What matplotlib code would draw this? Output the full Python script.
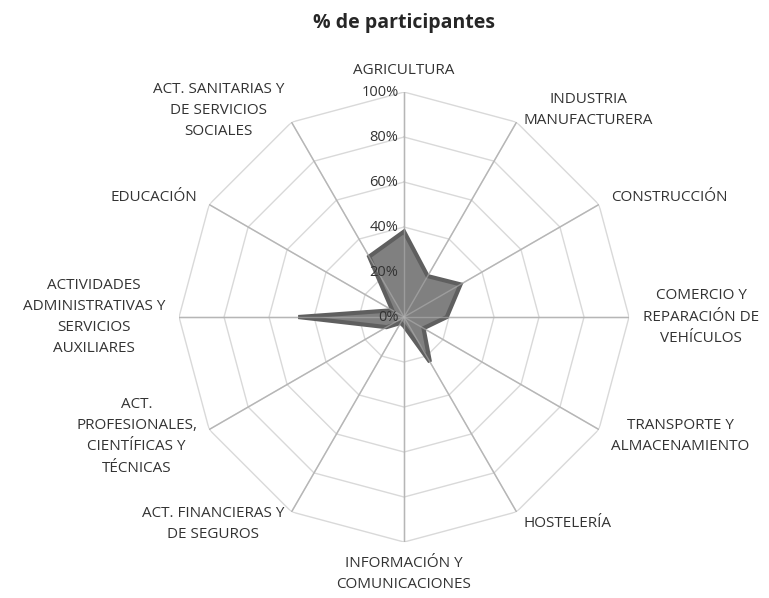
import numpy as np
import matplotlib
matplotlib.use("Agg")
import matplotlib.pyplot as plt

plt.rcParams['font.family'] = ['Open Sans', 'Liberation Sans', 'DejaVu Sans']

categories = [
    "AGRICULTURA",
    "INDUSTRIA\nMANUFACTURERA",
    "CONSTRUCCIÓN",
    "COMERCIO Y\nREPARACIÓN DE\nVEHÍCULOS",
    "TRANSPORTE Y\nALMACENAMIENTO",
    "HOSTELERÍA",
    "INFORMACIÓN Y\nCOMUNICACIONES",
    "ACT. FINANCIERAS Y\nDE SEGUROS",
    "ACT.\nPROFESIONALES,\nCIENTÍFICAS Y\nTÉCNICAS",
    "ACTIVIDADES\nADMINISTRATIVAS Y\nSERVICIOS\nAUXILIARES",
    "EDUCACIÓN",
    "ACT. SANITARIAS Y\nDE SERVICIOS\nSOCIALES",
]
values = [38, 21, 29, 19, 10, 23, 4, 3, 9, 47, 6, 31]
rings = [20, 40, 60, 80, 100]
ring_labels = ["0%", "20%", "40%", "60%", "80%", "100%"]

n = len(categories)
angles = np.linspace(0, 2 * np.pi, n, endpoint=False)
closed = np.append(angles, angles[0])

fig = plt.figure(figsize=(7.69, 5.98), dpi=100)
ax = fig.add_axes([0.2328, 0.0936, 0.5852, 0.7525], projection='polar')
ax.set_theta_zero_location('N')
ax.set_theta_direction(-1)
ax.set_ylim(0, 100)
ax.grid(False)
ax.spines['polar'].set_visible(False)
ax.set_xticks([])
ax.set_yticks([])

# polygon rings
for r in rings:
    ax.plot(closed, [r] * (n + 1), color='#d9d9d9', lw=1, zorder=1)
# spokes
for a in angles:
    ax.plot([a, a], [0, 100], color='#bfbfbf', lw=1, zorder=1)

vals = np.append(values, values[0])
ax.fill(closed, vals, facecolor='#808080', edgecolor='#5f5f5f', lw=3, zorder=2,
        joinstyle='miter')
# spokes over fill (Excel keeps axis lines visible)
for a in angles:
    ax.plot([a, a], [0, 100], color='#b0b0b0', lw=1, zorder=4, alpha=0.6)

# radial labels
for i, lab in enumerate(ring_labels):
    ax.annotate(lab, xy=(0, i * 20), xytext=(-4, 0), textcoords='offset points',
                ha='right', va='center', fontsize=10.5, color='#333333', zorder=5)

# category labels
for a, lab in zip(angles, categories):
    s, c = np.sin(a), np.cos(a)
    if abs(s) < 0.1:
        ha = 'center'
    elif s > 0:
        ha = 'left'
    else:
        ha = 'right'
    if c > 0.9:
        va = 'bottom'
    elif c < -0.9:
        va = 'top'
    else:
        va = 'center'
    ax.annotate(lab, xy=(a, 100), xytext=(10 * s, 10 * c), textcoords='offset points',
                ha=ha, va=va, multialignment='center', fontsize=11,
                color='#333333', linespacing=1.55, annotation_clip=False)

fig.text(0.525, 0.962, "% de participantes", ha='center', va='center',
         fontsize=14, fontweight='bold', color='#262626')

fig.savefig("out.png", dpi=100)
